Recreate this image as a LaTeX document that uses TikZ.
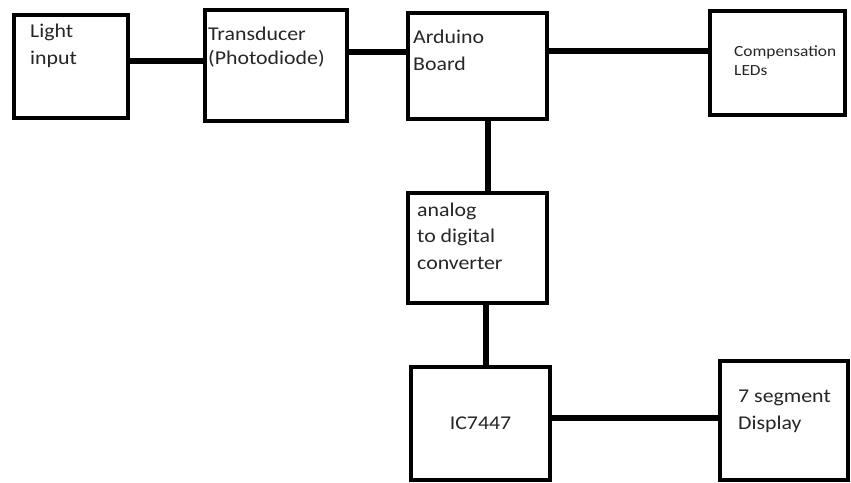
\documentclass[tikz,border=0pt]{standalone}
\usepackage{fontspec}
\setmainfont[FakeStretch=1.12]{Carlito}
\usepackage{xcolor}
\usepackage{tikz}
\usetikzlibrary{positioning,calc}

\begin{document}
\begin{tikzpicture}[
  x=1pt, y=-1pt,
  blk/.style={draw, line width=4pt, anchor=north west, inner sep=0pt,
              font=\fontsize{19.5}{26.5}\selectfont, text=black!85},
  txt/.style={anchor=base west, align=left, inner sep=0pt,
              font=\fontsize{19.5}{26.5}\selectfont, text=black!85},
  wire/.style={line width=6.5pt, line cap=round},
]
\useasboundingbox[fill=white] (0,0) rectangle (851,482);
%% Row 1: light path
\node[blk, minimum width=114pt, minimum height=103pt,
  label={[txt, xshift=18pt, yshift=-51pt]north west:{Light\\input}}]
  (light) at (12,13) {};
\node[blk, minimum width=142pt, minimum height=111pt,
  label={[txt, xshift=5pt, yshift=-56pt,
          font=\fontsize{19.5}{24}\selectfont]north west:{Transducer\\(Photodiode)}}]
  (trans) at (203,8) {};
\node[blk, minimum width=139pt, minimum height=106pt,
  label={[txt, xshift=7pt, yshift=-59pt]north west:{Arduino\\Board}}]
  (ard) at (406,11) {};
\node[blk, minimum width=135pt, minimum height=104pt,
  label={[txt, xshift=26pt, yshift=-66pt,
          font=\fontsize{15.5}{19}\selectfont]north west:{Compensation\\LEDs}}]
  (leds) at (708,9) {};
\draw[wire] (light.east |- 0,61) -- (trans.west |- 0,61);
\draw[wire] (trans.east |- 0,52) -- (ard.west |- 0,52);
\draw[wire] (ard.east |- 0,51) -- (leds.west |- 0,51);
%% Row 2: converter
\node[blk, minimum width=139pt, minimum height=110pt,
  label={[txt, xshift=11pt, yshift=-78pt]north west:{analog\\to digital\\converter}}]
  (adc) at (406,191) {};
\draw[wire] (ard.south -| 488,0) -- (adc.north -| 488,0);
%% Row 3: decoder and display
\node[blk, minimum width=139pt, minimum height=113pt] (ic) at (409,365) {IC7447};
\node[blk, minimum width=128pt, minimum height=119pt,
  label={[txt, xshift=20pt, yshift=-70pt]north west:{7 segment\\Display}}]
  (seg) at (718,359) {};
\draw[wire] (adc.south -| 486,0) -- (ic.north -| 486,0);
\draw[wire] (ic.east |- 0,418) -- (seg.west |- 0,418);
\end{tikzpicture}
\end{document}
